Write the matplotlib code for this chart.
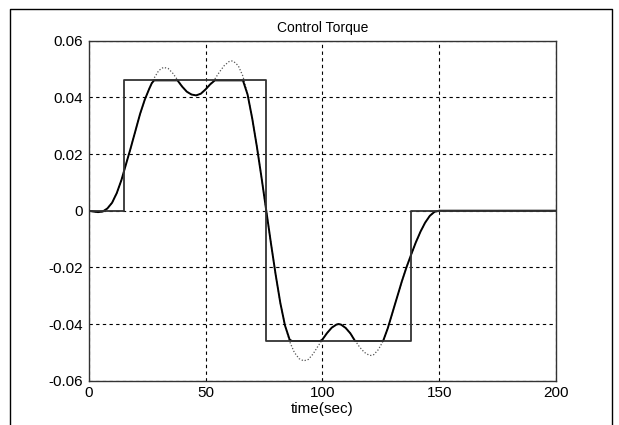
import matplotlib
matplotlib.use("Agg")
import matplotlib.pyplot as plt
from matplotlib.lines import Line2D

# Step (bang-bang) torque profile
step_t = [0, 15, 15, 76, 76, 138, 138, 200]
step_u = [0, 0, 0.046, 0.046, -0.046, -0.046, 0, 0]

# Unsaturated (dotted) torque
free_t = [0, 2, 4, 6, 8, 10, 12, 14, 16, 18, 20, 22, 24, 26, 28, 30, 32, 34, 36,
          38, 40, 42, 44, 46, 48, 50, 52, 54, 56, 58, 60, 61, 62, 64, 66, 68, 70,
          72, 74, 76, 78, 80, 82, 84, 86, 88, 90, 92, 94, 96, 98, 100, 102, 104,
          106, 107, 108, 110, 112, 114, 116, 118, 120, 121, 122, 124, 126, 128,
          130, 132, 134, 136, 138, 140, 142, 144, 146, 148, 150, 200]
free_u = [0, -0.0003, -0.0005, -0.0003, 0.0008, 0.0028, 0.0062, 0.0108, 0.0165,
          0.0222, 0.0282, 0.0342, 0.0392, 0.0432, 0.0468, 0.0495, 0.0506, 0.0502,
          0.0485, 0.0462, 0.0438, 0.0420, 0.0410, 0.0407, 0.0413, 0.0428, 0.0446,
          0.0465, 0.0490, 0.0512, 0.0526, 0.0529, 0.0527, 0.0512, 0.0475, 0.0410,
          0.0325, 0.0225, 0.0115, 0.0, -0.0115, -0.0225, -0.0325, -0.0405,
          -0.0462, -0.0500, -0.0522, -0.0530, -0.0525, -0.0506, -0.0480, -0.0455,
          -0.0432, -0.0413, -0.0402, -0.0400, -0.0402, -0.0414, -0.0433, -0.0458,
          -0.0482, -0.0500, -0.0510, -0.0511, -0.0508, -0.0490, -0.0460, -0.0415,
          -0.0360, -0.0305, -0.0250, -0.0200, -0.0155, -0.0112, -0.0074, -0.0042,
          -0.0018, -0.0004, 0, 0]

# Saturated (solid) torque
sat_t = [0, 2, 4, 6, 8, 10, 12, 14, 16, 18, 20, 22, 24, 26, 27, 28, 38, 40, 42,
         44, 46, 48, 50, 52, 54, 66, 68, 70, 72, 74, 76, 78, 80, 82, 84, 86, 87,
         99, 100, 102, 104, 106, 107, 108, 110, 112, 114, 126, 128, 130, 132,
         134, 136, 138, 140, 142, 144, 146, 148, 150, 200]
sat_u = [0, -0.0003, -0.0005, -0.0003, 0.0008, 0.0028, 0.0062, 0.0108, 0.0165,
         0.0222, 0.0282, 0.0342, 0.0392, 0.0432, 0.0450, 0.046, 0.046, 0.0438,
         0.0420, 0.0410, 0.0407, 0.0413, 0.0428, 0.0446, 0.046, 0.046, 0.0410,
         0.0325, 0.0225, 0.0115, 0.0, -0.0115, -0.0225, -0.0325, -0.0405,
         -0.0455, -0.046, -0.046, -0.0455, -0.0432, -0.0413, -0.0402, -0.0400,
         -0.0402, -0.0414, -0.0433, -0.046, -0.046, -0.0415, -0.0360, -0.0305,
         -0.0250, -0.0200, -0.0155, -0.0112, -0.0074, -0.0042, -0.0018, -0.0004,
         0, 0]

xticks = [0, 50, 100, 150, 200]
yticks = [-0.06, -0.04, -0.02, 0, 0.02, 0.04, 0.06]
ytick_labels = ["-0.06", "-0.04", "-0.02", "0", "0.02", "0.04", "0.06"]

plt.rcParams['font.family'] = ['Liberation Sans', 'DejaVu Sans']

fig = plt.figure(figsize=(6.19, 4.25), dpi=100)
W, H = 619, 425
ax = fig.add_axes([88.7 / W, 1 - 380.7 / H, (556 - 88.7) / W, (380.7 - 40.7) / H])

ax.plot(free_t, free_u, color='#555555', lw=0.9, linestyle=(0, (1, 1.5)), zorder=2)
ax.plot(sat_t, sat_u, color='black', lw=1.4, zorder=3, solid_joinstyle='round')
ax.plot(step_t, step_u, color='#333333', lw=1.3, zorder=3)

ax.set_xlim(0, 200)
ax.set_ylim(-0.06, 0.06)
ax.set_xticks(xticks)
ax.set_xticklabels([str(v) for v in xticks])
ax.set_yticks(yticks)
ax.set_yticklabels(ytick_labels)
ax.tick_params(direction='in', length=0, labelsize=11, pad=4)
ax.grid(True, color='black', linestyle=(0, (3, 3)), lw=0.8)
for s in ax.spines.values():
    s.set_color('#333333')
    s.set_linewidth(1.0)

ax.set_title("Control Torque", fontsize=10, pad=6)
ax.set_xlabel("time(sec)", fontsize=11, labelpad=1)

# figure border (scanned page frame)
fx = [10 / W, 10 / W, 612 / W, 612 / W]
fy = [0, 1 - 9 / H, 1 - 9 / H, 0]
fig.add_artist(Line2D(fx, fy, transform=fig.transFigure, color='black', lw=1.0))

fig.savefig("out.png", dpi=100)
